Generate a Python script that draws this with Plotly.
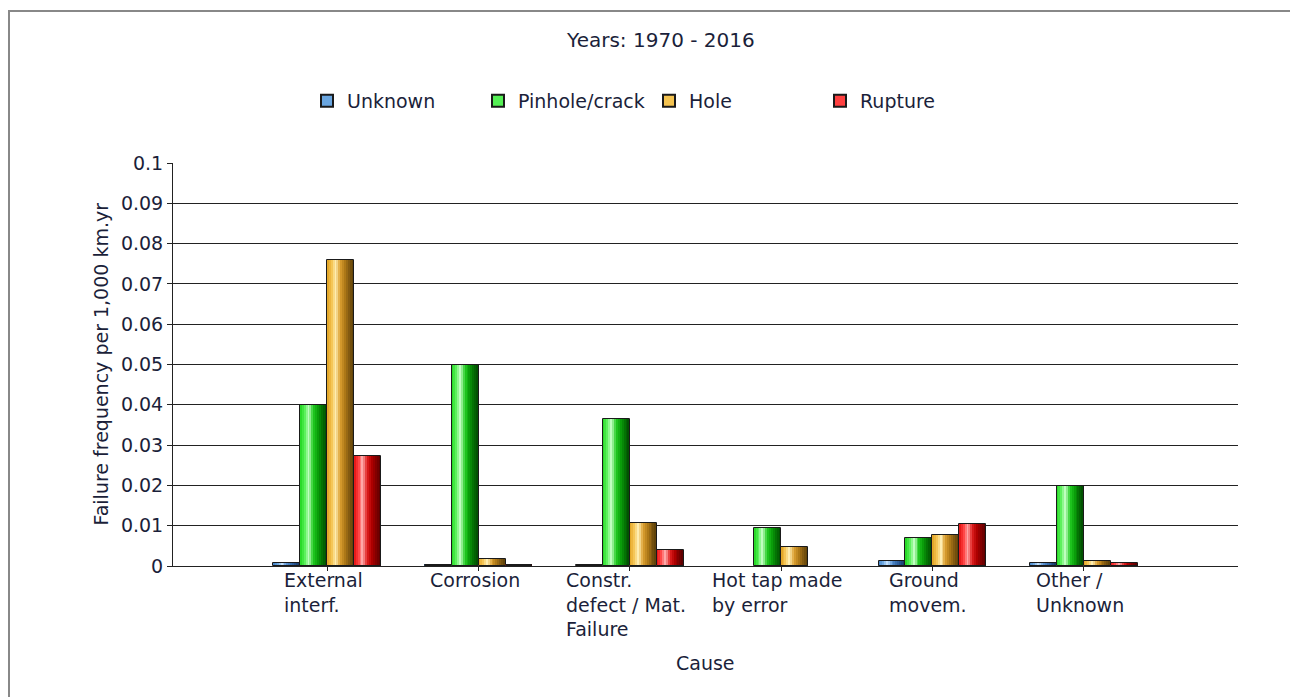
import plotly.graph_objects as go

categories = ["External<br>interf.", "Corrosion", "Constr.<br>defect / Mat.<br>Failure",
              "Hot tap made<br>by error", "Ground<br>movem.", "Other /<br>Unknown"]
series_names = ["Unknown", "Pinhole/crack", "Hole", "Rupture"]
unknown = [0.0007, 0.0003, 0.0003, 0.0, 0.0013, 0.0008]
pinhole = [0.0400, 0.0500, 0.0365, 0.0095, 0.0070, 0.0198]
hole = [0.0760, 0.0017, 0.0107, 0.0047, 0.0078, 0.0012]
rupture = [0.0273, 0.0003, 0.0040, 0.0, 0.0103, 0.0007]
y_ticks = [0, 0.01, 0.02, 0.03, 0.04, 0.05, 0.06, 0.07, 0.08, 0.09, 0.1]
y_tick_labels = ["0", "0.01", "0.02", "0.03", "0.04", "0.05", "0.06", "0.07", "0.08", "0.09", "0.1"]

# gradient stops per series (left -> right across a bar)
gradients = {
    "Unknown": ["#3f7fc4", "#6aa6e0", "#c8e4ff", "#5f98d6", "#3a70b0", "#24508a", "#163660"],
    "Pinhole/crack": ["#1ed41e", "#55f055", "#c8ffc8", "#22cc22", "#0aa00a", "#047004", "#024a02"],
    "Hole": ["#e0a020", "#f4c350", "#fff0b8", "#dca030", "#b07a18", "#805810", "#5a3e08"],
    "Rupture": ["#e01010", "#ff4040", "#ffb0b0", "#e02020", "#b00000", "#800000", "#560000"],
}
values = [unknown, pinhole, hole, rupture]

TEXT = "#1b1f3a"
FONT = "DejaVu Sans"
FS = 19

# plot area in figure pixels
L, R, T, B = 165, 68, 155, 139
W, H = 1298, 697
PW, PH = W - L - R, H - T - B

def hex_to_rgb(h):
    h = h.lstrip("#")
    return tuple(int(h[i:i + 2], 16) for i in (0, 2, 4))

def interp(stops, t):
    n = len(stops) - 1
    p = t * n
    i = min(int(p), n - 1)
    f = p - i
    a, b = hex_to_rgb(stops[i]), hex_to_rgb(stops[i + 1])
    c = [round(a[k] + (b[k] - a[k]) * f) for k in range(3)]
    return "rgb(%d,%d,%d)" % tuple(c)

fig = go.Figure()
bar_w = 0.178
n_slices = 14
xs = list(range(len(categories)))

for si, (name, vals) in enumerate(zip(series_names, values)):
    center_off = (si - 1.5) * bar_w
    yv = [v if v > 0 else None for v in vals]
    sw = bar_w / n_slices
    for k in range(n_slices):
        off = center_off - bar_w / 2 + sw * (k + 0.5)
        fig.add_trace(go.Bar(
            x=[x + off for x in xs], y=yv, width=sw,
            marker=dict(color=interp(gradients[name], (k + 0.5) / n_slices), line=dict(width=0)),
            showlegend=False, hoverinfo="skip"))
    fig.add_trace(go.Bar(
        x=[x + center_off for x in xs], y=yv, width=bar_w, name=name,
        marker=dict(color="rgba(0,0,0,0)", line=dict(color="#1a1a1a", width=1)),
        showlegend=False))
    fig.add_trace(go.Bar(
        x=[None], y=[None], name=name,
        marker=dict(color=gradients[name][1], line=dict(color="#1a1a1a", width=1.5)),
        showlegend=True))

for i, lab in enumerate(categories):
    fig.add_annotation(x=i, y=0, xref="x", yref="y", text=lab, showarrow=False,
                       xanchor="center", yanchor="top", align="left", yshift=-1, xshift=-4,
                       font=dict(family=FONT, size=FS, color=TEXT))

fig.add_annotation(x=0.5, y=(H - B - 655) / PH, xref="paper", yref="paper",
                   text="Cause", showarrow=False, xanchor="center", yanchor="middle",
                   font=dict(family=FONT, size=FS, color=TEXT))
fig.add_annotation(x=0, y=0.5, xref="paper", yref="paper", xshift=-73,
                   text="Failure frequency per 1,000 km.yr", textangle=-90, showarrow=False,
                   xanchor="center", yanchor="middle",
                   font=dict(family=FONT, size=FS, color=TEXT))

fig.add_shape(type="rect", xref="paper", yref="paper",
              x0=(1 - L) / PW, x1=(1283 - L) / PW, y0=(H - T - 720) / PH, y1=(H - B - 3) / PH,
              line=dict(color="#888888", width=2), fillcolor="rgba(0,0,0,0)", layer="below")

fig.update_layout(
    width=W, height=H,
    paper_bgcolor="white", plot_bgcolor="white",
    barmode="overlay", bargap=0,
    margin=dict(l=L, r=R, t=T, b=B),
    font=dict(family=FONT, size=FS, color=TEXT),
    title=dict(text="Years: 1970 - 2016", x=0.503, xanchor="center", y=1 - 32 / H,
               yanchor="middle", xref="container", font=dict(family=FONT, size=20, color=TEXT)),
    legend=dict(orientation="h", x=(299 - L) / PW, y=1 + (T - 93) / PH, xanchor="left",
                yanchor="middle", entrywidth=126, entrywidthmode="pixels",
                font=dict(family=FONT, size=FS, color=TEXT), itemsizing="constant"),
    xaxis=dict(range=[-1.02, 6.02], tickvals=xs, ticktext=[""] * len(xs), ticks="outside",
               ticklen=4, tickcolor="#222", showgrid=False, zeroline=False,
               showline=True, linecolor="#222", linewidth=1, automargin=False),
    yaxis=dict(range=[0, 0.1], tickvals=y_ticks, ticktext=y_tick_labels, ticks="outside",
               ticklen=5, tickcolor="#222", showgrid=True, gridcolor="#222", gridwidth=1,
               zeroline=False, showline=True, linecolor="#222", linewidth=1, automargin=False,
               tickfont=dict(family=FONT, size=FS, color=TEXT)),
)

fig.write_html("out.html")
